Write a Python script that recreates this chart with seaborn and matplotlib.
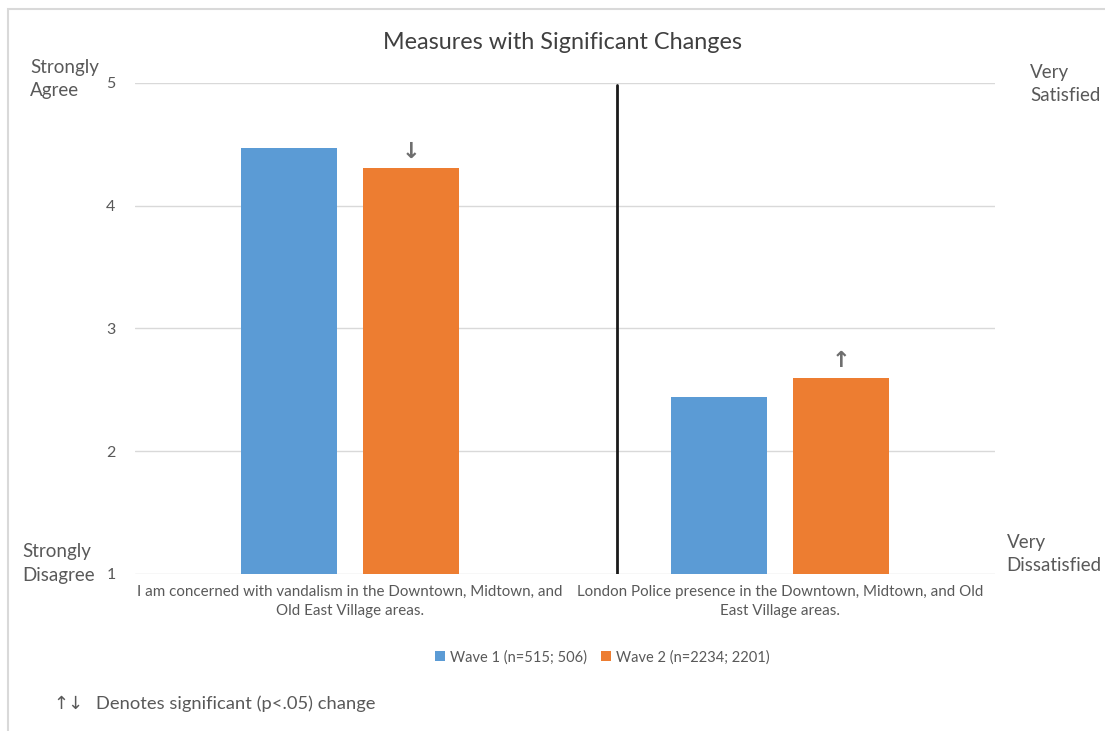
import matplotlib
matplotlib.use("Agg")
import matplotlib.pyplot as plt
from matplotlib.patches import Rectangle
import seaborn as sns
import pandas as pd

# Survey measures and mean scores per wave
categories = [
    "I am concerned with vandalism in the Downtown, Midtown, and\nOld East Village areas.",
    "London Police presence in the Downtown, Midtown, and Old\nEast Village areas.",
]
series_names = ["Wave 1 (n=515; 506)", "Wave 2 (n=2234; 2201)"]
wave1 = [4.47, 2.44]
wave2 = [4.31, 2.60]
# significance direction for wave 2 vs wave 1
wave2_change = ["↓", "↑"]
y_ticks = [1, 2, 3, 4, 5]

colors = ["#5B9BD5", "#ED7D31"]
text_grey = "#595959"

sns.set_theme(style="white")
plt.rcParams["font.family"] = ["Lato", "DejaVu Sans"]

df = pd.DataFrame({
    "measure": categories * 2,
    "wave": [series_names[0]] * 2 + [series_names[1]] * 2,
    "score": wave1 + wave2,
})

fig = plt.figure(figsize=(11.05, 7.31), dpi=100)
ax = fig.add_axes([0.1222, 0.2148, 0.7783, 0.6717])

sns.barplot(data=df, x="measure", y="score", hue="wave", order=categories,
            hue_order=series_names, palette=colors, width=0.567, gap=0.213,
            saturation=1, ax=ax, legend=True)

# bars start from the bottom of the scale
for bar in ax.patches:
    h = bar.get_height()
    bar.set_y(1)
    bar.set_height(h - 1)
    bar.set_edgecolor("none")

ax.set_ylim(1, 5)
ax.set_xlim(-0.5, 1.5)
ax.set_yticks(y_ticks)
ax.set_yticklabels([str(t) for t in y_ticks], color=text_grey, fontsize=11.5)
ax.tick_params(axis="y", length=0, pad=14)
ax.tick_params(axis="x", length=0, pad=8)
ax.set_xticks(range(len(categories)))
ax.set_xticklabels(categories, color=text_grey, fontsize=10.9, linespacing=1.45)
ax.set_xlabel("")
ax.set_ylabel("")
ax.grid(axis="y", color="#d9d9d9", linewidth=1)
ax.set_axisbelow(True)
for s in ax.spines.values():
    s.set_visible(False)

# divider between the two measures
ax.axvline(0.62, ymin=-0.005, ymax=0.995, color="#1a1a1a", linewidth=2)

# significance arrows above wave 2 bars
wave2_bars = sorted(ax.containers[1], key=lambda p: p.get_x())
for bar, val, sym in zip(wave2_bars, wave2, wave2_change):
    ax.text(bar.get_x() + bar.get_width() / 2, val + 0.05, sym,
            ha="center", va="bottom", fontsize=16, fontweight="bold",
            color="#6e6e6e", family=["DejaVu Sans"])

# legend below the plot
handles, labels = ax.get_legend_handles_labels()
ax.get_legend().remove()
fig.legend(handles, labels, loc="center", bbox_to_anchor=(0.545, 0.101),
           ncol=2, frameon=False, fontsize=10.5, labelcolor=text_grey,
           handlelength=0.7, handleheight=0.7, handletextpad=0.3,
           columnspacing=1.0)

# scale anchor labels
label_kw = dict(color=text_grey, fontsize=13.5, ha="left", va="center",
                linespacing=1.45)
fig.text(0.027, 0.892, "Strongly\nAgree", **label_kw)
fig.text(0.020, 0.229, "Strongly\nDisagree", **label_kw)
fig.text(0.932, 0.885, "Very\nSatisfied", **label_kw)
fig.text(0.911, 0.242, "Very\nDissatisfied", **label_kw)

fig.suptitle("Measures with Significant Changes", x=0.509, y=0.942,
             fontsize=16.8, color="#404040", va="center")

fig.text(0.048, 0.037, "↑↓", color=text_grey, fontsize=13, ha="left",
         va="center", family=["DejaVu Sans"])
fig.text(0.087, 0.037, "Denotes significant (p<.05) change", color=text_grey,
         fontsize=13.2, ha="left", va="center")

# outer chart frame
fig.patches.append(Rectangle((8 / 1105, -0.05), 1.2, 1 - 9 / 731 + 0.05,
                             transform=fig.transFigure, fill=False,
                             edgecolor="#d9d9d9", linewidth=1.5))

fig.savefig("out.png", dpi=100)
